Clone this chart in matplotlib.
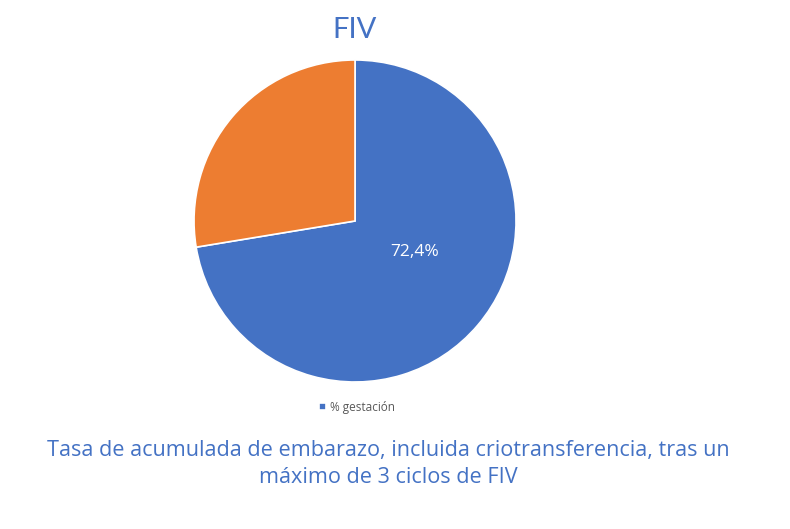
import matplotlib.pyplot as plt

# datos
labels = ['% gestación', '% no gestación']
values = [72.4, 27.6]
colors = ['#4472C4', '#ED7D31']
title = 'FIV'
caption = 'Tasa de acumulada de embarazo, incluida criotransferencia, tras un\nmáximo de 3 ciclos de FIV'

plt.rcParams['font.family'] = ['Lato', 'DejaVu Sans']

fig = plt.figure(figsize=(7.9, 5.29), dpi=100)

# grafico circular
ax = fig.add_axes([0.2456, 0.2779, 0.4076, 0.6087])
wedges, _ = ax.pie(values, colors=colors, startangle=90, counterclock=False,
                   radius=1, wedgeprops=dict(edgecolor='white', linewidth=1.2))
ax.set_xlim(-1, 1)
ax.set_ylim(-1, 1)
ax.set_aspect('equal')
ax.axis('off')

# etiqueta del sector azul
ax.text(0.37, -0.19, '{:.1f}%'.format(values[0]).replace('.', ','),
        color='white', fontsize=12.5, ha='center', va='center',
        family=['Open Sans', 'DejaVu Sans'])

# titulo
fig.text(355 / 790, 1 - 30 / 529, title, color='#4472C4', fontsize=21,
         ha='center', va='center')

# leyenda (solo la serie azul)
fig.legend([wedges[0]], [labels[0]], loc='center', bbox_to_anchor=(357 / 790, 1 - 407 / 529),
           frameon=False, handlelength=0.6, handleheight=0.6,
           handletextpad=0.4, labelcolor='#595959',
           prop=dict(family=['Open Sans', 'DejaVu Sans'], size=8.5))

# texto inferior
fig.text(388 / 790, 1 - 464 / 529, caption, color='#4472C4', fontsize=15.6,
         ha='center', va='center', linespacing=1.32,
         family=['Open Sans', 'DejaVu Sans'])

fig.savefig('out.png', dpi=100)
